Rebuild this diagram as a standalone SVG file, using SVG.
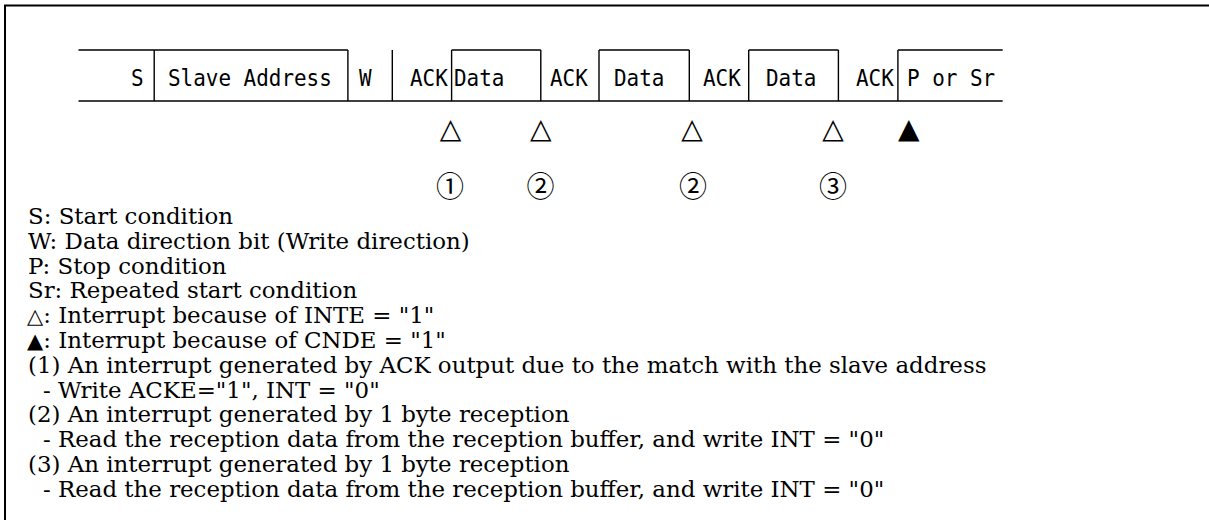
<svg xmlns="http://www.w3.org/2000/svg" width="1209" height="520" viewBox="0 0 1209 520">
<style>
.ln{stroke:#000;stroke-width:1.4;fill:none}
.frame{stroke:#000;stroke-width:2;fill:none}
.mono{font-family:"DejaVu Sans Mono","Liberation Mono",monospace;font-size:23px;fill:#000}
.lg{font-family:"DejaVu Serif","Liberation Serif",serif;font-size:22.9px;fill:#000}
.tri{font-family:"DejaVu Sans",sans-serif;font-size:21px}
.mk{font-family:"DejaVu Sans",sans-serif;font-size:28px;fill:#000;text-anchor:middle}
.num{font-family:"Noto Sans CJK JP",sans-serif;font-size:28px;fill:#000;text-anchor:middle}
</style>
<rect width="1209" height="520" fill="#fff"/>
<g id="frame">
<path class="frame" d="M5,520 V5.5 H1209"/>
</g>
<g id="connectors">
<path class="ln" d="M78.5,101 H1002.7"/>
<path class="ln" d="M78.5,50 H347.9 M451.6,50 H540.8 M599,50 H689.3 M748.7,50 H838.4 M897.9,50 H1002.7"/>
<path class="ln" d="M154.2,50 V101 M347.9,50 V101 M392.3,50 V101 M451.6,50 V101 M540.8,50 V101 M599,50 V101 M689.3,50 V101 M748.7,50 V101 M838.4,50 V101 M897.9,50 V101"/>
</g>
<g id="field-s"><text class="mono" x="131" y="86" textLength="12.6" lengthAdjust="spacingAndGlyphs">S</text></g>
<g id="field-address"><text class="mono" x="168" y="86" textLength="163.8" lengthAdjust="spacingAndGlyphs">Slave Address</text></g>
<g id="field-w"><text class="mono" x="359" y="86" textLength="12.6" lengthAdjust="spacingAndGlyphs">W</text></g>
<g id="field-ack1"><text class="mono" x="410" y="86" textLength="37.8" lengthAdjust="spacingAndGlyphs">ACK</text></g>
<g id="field-data1"><text class="mono" x="454" y="86" textLength="50.4" lengthAdjust="spacingAndGlyphs">Data</text></g>
<g id="field-ack2"><text class="mono" x="550" y="86" textLength="37.8" lengthAdjust="spacingAndGlyphs">ACK</text></g>
<g id="field-data2"><text class="mono" x="614" y="86" textLength="50.4" lengthAdjust="spacingAndGlyphs">Data</text></g>
<g id="field-ack3"><text class="mono" x="703" y="86" textLength="37.8" lengthAdjust="spacingAndGlyphs">ACK</text></g>
<g id="field-data3"><text class="mono" x="766" y="86" textLength="50.4" lengthAdjust="spacingAndGlyphs">Data</text></g>
<g id="field-ack4"><text class="mono" x="856" y="86" textLength="37.8" lengthAdjust="spacingAndGlyphs">ACK</text></g>
<g id="field-p"><text class="mono" x="907" y="86" textLength="88.2" lengthAdjust="spacingAndGlyphs">P or Sr</text></g>
<g id="markers">
<text class="mk" x="450.6" y="138">△</text>
<text class="mk" x="540.7" y="138">△</text>
<text class="mk" x="692" y="138">△</text>
<text class="mk" x="833" y="138">△</text>
<text class="mk" x="908.7" y="138">▲</text>
</g>
<g id="numbers">
<text class="num" x="450" y="197">①</text>
<text class="num" x="540.5" y="197">②</text>
<text class="num" x="693" y="197">②</text>
<text class="num" x="833" y="197">③</text>
</g>
<g id="legend">
<text class="lg" x="28" y="224">S: Start condition</text>
<text class="lg" x="28" y="248.8">W: Data direction bit (Write direction)</text>
<text class="lg" x="28" y="273.6">P: Stop condition</text>
<text class="lg" x="28" y="298.4">Sr: Repeated start condition</text>
<text class="lg" x="27" y="323.2"><tspan class="tri">△</tspan>: Interrupt because of INTE = "1"</text>
<text class="lg" x="27" y="348"><tspan class="tri">▲</tspan>: Interrupt because of CNDE = "1"</text>
<text class="lg" x="28" y="372.8">(1) An interrupt generated by ACK output due to the match with the slave address</text>
<text class="lg" x="43" y="397.6">- Write ACKE="1", INT = "0"</text>
<text class="lg" x="28" y="422.4">(2) An interrupt generated by 1 byte reception</text>
<text class="lg" x="43" y="447.2">- Read the reception data from the reception buffer, and write INT = "0"</text>
<text class="lg" x="28" y="472">(3) An interrupt generated by 1 byte reception</text>
<text class="lg" x="43" y="496.8">- Read the reception data from the reception buffer, and write INT = "0"</text>
</g>
</svg>
